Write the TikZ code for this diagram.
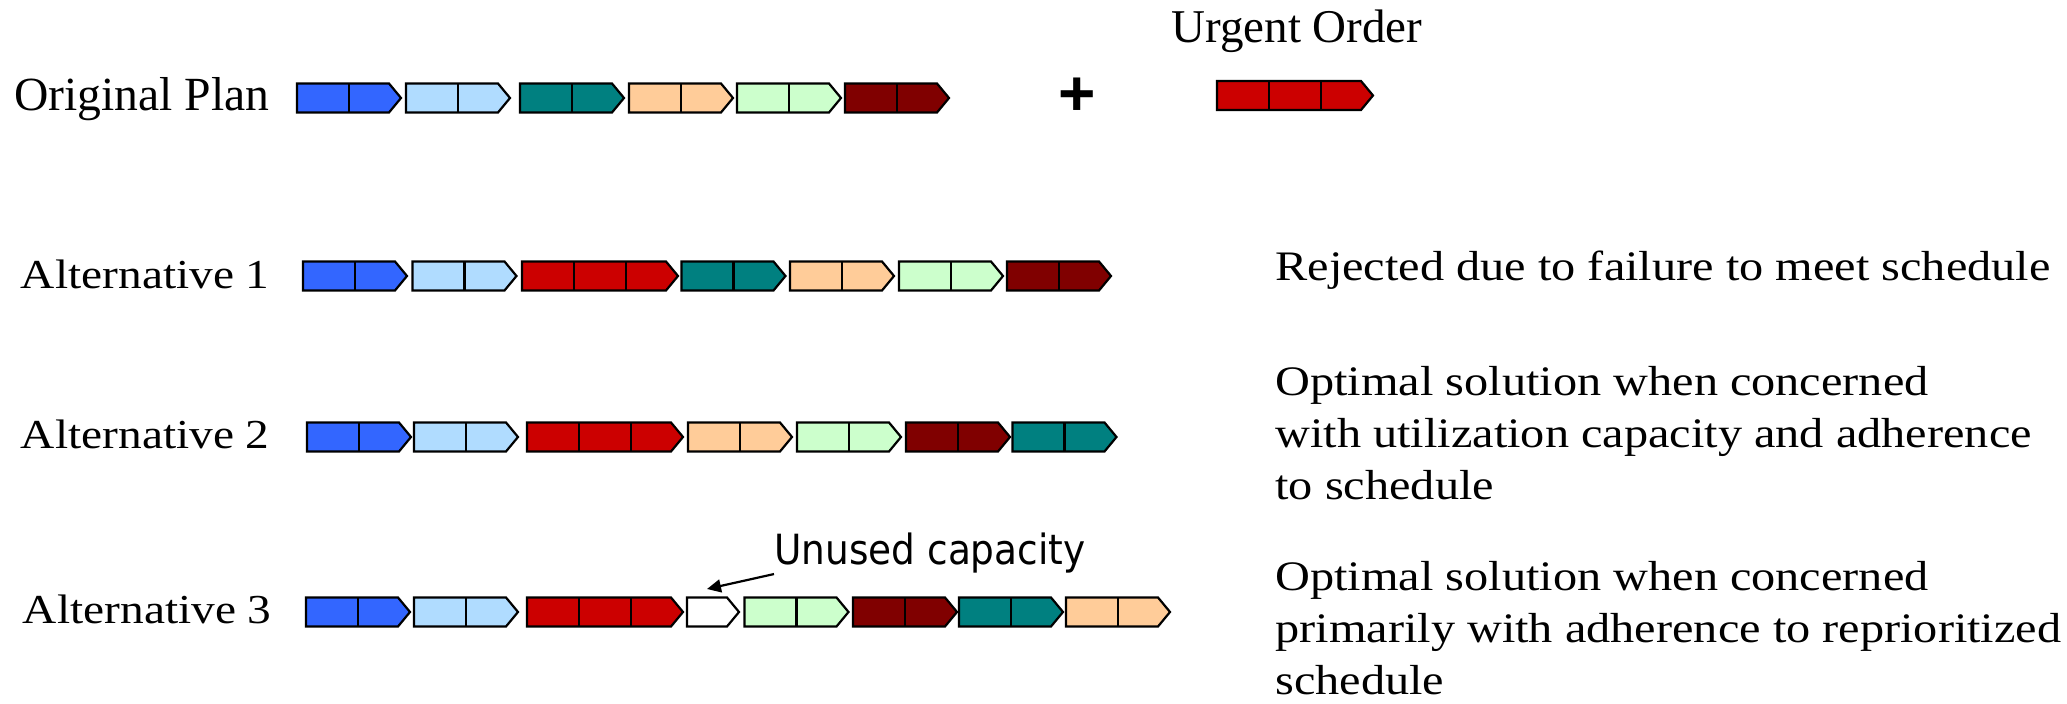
\documentclass[tikz,border=0pt]{standalone}
\usepackage{fontspec}
\setmainfont{Liberation Serif}
\newfontfamily\widefont{Liberation Serif}[FakeStretch=1.15]
\newfontfamily\notefont{DejaVu Sans Condensed}
\newfontfamily\plusfont{Liberation Sans}
\usepackage{tikz}
\usetikzlibrary{arrows.meta,positioning}
\definecolor{jobblue}{RGB}{51,102,255}
\definecolor{jobsky}{RGB}{176,220,255}
\definecolor{jobteal}{RGB}{0,128,128}
\definecolor{jobpeach}{RGB}{255,204,153}
\definecolor{jobmint}{RGB}{204,255,204}
\definecolor{jobmaroon}{RGB}{128,0,0}
\definecolor{jobred}{RGB}{204,0,0}

% one order: name, left x, centre y, number of cells, colour
\newcommand{\schedbar}[5]{%
  \coordinate (#1) at ({#2},{#3});
  \draw[barline, fill=#5] ({#2},{#3-14.5}) -- ({#2+52*#4-12},{#3-14.5}) -- ({#2+52*#4},{#3})
    -- ({#2+52*#4-12},{#3+14.5}) -- ({#2},{#3+14.5}) -- cycle;
  \ifnum#4>1
    \foreach \k in {2,...,#4} {\draw[barline] ({#2+52*(\k-1)},{#3-14.5}) -- ++(0,29);}
  \fi}

\begin{document}
\begin{tikzpicture}[x=0.5pt, y=-0.5pt,
  barline/.style={draw=black, line width=1.1pt},
  rowlbl/.style={inner sep=0, anchor=base east, font=\widefont\fontsize{20.6}{26}\selectfont},
  note/.style={inner sep=0, anchor=base west, align=left, font=\widefont\fontsize{21}{26}\selectfont},
  pointer/.style={-{Triangle[length=7pt,width=6.5pt]}, line width=1.1pt}]
\useasboundingbox (0,0) rectangle (2067,704);

% original plan and the urgent order
\node[inner sep=0, anchor=base east, font=\fontsize{23.8}{28}\selectfont] (orig) at (270,111) {Original Plan};
\schedbar{o1}{297}{98}{2}{jobblue}
\schedbar{o2}{406}{98}{2}{jobsky}
\schedbar{o3}{520}{98}{2}{jobteal}
\schedbar{o4}{629}{98}{2}{jobpeach}
\schedbar{o5}{737}{98}{2}{jobmint}
\schedbar{o6}{845}{98}{2}{jobmaroon}
\node[inner sep=0, font=\plusfont\bfseries\fontsize{32}{32}\selectfont] (plus) at (1077,97) {+};
\node[inner sep=0, anchor=base west, font=\fontsize{23.5}{28}\selectfont] (urgent) at (1171,43) {Urgent Order};
\schedbar{u1}{1217}{95.5}{3}{jobred}

% alternative 1
\node[rowlbl] (alt1) at (270,289) {Alternative 1};
\schedbar{a11}{303}{276}{2}{jobblue}
\schedbar{a12}{412.5}{276}{2}{jobsky}
\schedbar{a13}{522}{276}{3}{jobred}
\schedbar{a14}{681.5}{276}{2}{jobteal}
\schedbar{a15}{790}{276}{2}{jobpeach}
\schedbar{a16}{899}{276}{2}{jobmint}
\schedbar{a17}{1007}{276}{2}{jobmaroon}
\node[note] (rej) at (1275,281) {Rejected due to failure to meet schedule};

% alternative 2
\node[rowlbl] (alt2) at (270,449) {Alternative 2};
\schedbar{a21}{307}{437}{2}{jobblue}
\schedbar{a22}{414}{437}{2}{jobsky}
\schedbar{a23}{527}{437}{3}{jobred}
\schedbar{a24}{688}{437}{2}{jobpeach}
\schedbar{a25}{797}{437}{2}{jobmint}
\schedbar{a26}{906}{437}{2}{jobmaroon}
\schedbar{a27}{1012.5}{437}{2}{jobteal}
\node[note] (opt2) at (1275,500) {Optimal solution when concerned\\with utilization capacity and adherence\\to schedule};

% alternative 3
\node[rowlbl] (alt3) at (272,624) {Alternative 3};
\schedbar{a31}{306}{612}{2}{jobblue}
\schedbar{a32}{414}{612}{2}{jobsky}
\schedbar{a33}{527}{612}{3}{jobred}
\schedbar{gap}{687}{612}{1}{white}
\schedbar{a35}{744.5}{612}{2}{jobmint}
\schedbar{a36}{853}{612}{2}{jobmaroon}
\schedbar{a37}{959}{612}{2}{jobteal}
\schedbar{a38}{1066}{612}{2}{jobpeach}
\node[inner sep=0, anchor=base west, font=\notefont\fontsize{20.8}{24}\selectfont] (unused) at (774,565) {Unused capacity};
\draw[pointer] (unused.south west) -- ([shift={(20,-23)}]gap);
\node[note] (opt3) at (1275,695) {Optimal solution when concerned\\primarily with adherence to reprioritized\\schedule};
\end{tikzpicture}
\end{document}
